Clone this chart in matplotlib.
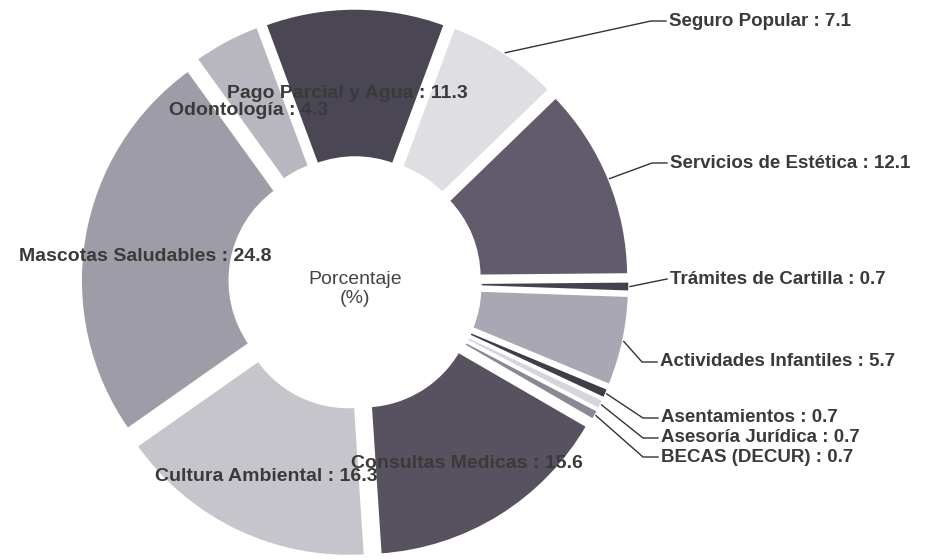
import matplotlib.pyplot as plt
import numpy as np

# datos (porcentaje por programa), en el orden de la grafica
categorias = ["Actividades Infantiles", "Asentamientos", "Asesoría Jurídica",
              "BECAS (DECUR)", "Consultas Medicas", "Cultura Ambiental",
              "Mascotas Saludables", "Odontología", "Pago Parcial y Agua",
              "Seguro Popular", "Servicios de Estética", "Trámites de Cartilla"]
porcentajes = [5.7, 0.7, 0.7, 0.7, 15.6, 16.3, 24.8, 4.3, 11.3, 7.1, 12.1, 0.7]
colores = ["#aaa7b5", "#403d49", "#d5d5db", "#8a8894", "#58515f", "#c6c5cc",
           "#9e9ca7", "#b8b6bf", "#4b4653", "#dfdee3", "#625b6c", "#46414f"]

# etiquetas dentro del anillo: (ajuste de angulo, distancia en px)
dentro = {"Consultas Medicas": (0, 197), "Cultura Ambiental": (-1, 198),
          "Mascotas Saludables": (-2.5, 196), "Odontología": (-4, 188),
          "Pago Parcial y Agua": (-2.5, 175)}
# etiquetas fuera: (x texto, y texto) en px desde arriba
fuera = {"Seguro Popular": (669, 21), "Servicios de Estética": (670, 163),
         "Trámites de Cartilla": (670, 279), "Actividades Infantiles": (660, 362),
         "Asentamientos": (661, 418), "Asesoría Jurídica": (661, 438),
         "BECAS (DECUR)": (661, 457)}

W, H = 931, 560
R = 260.0      # radio exterior en px
r_in = 110.0   # radio interior
e = 15.0       # separacion
cx, cy = 355, 283

plt.rcParams['font.family'] = ['Liberation Sans', 'DejaVu Sans']
fig = plt.figure(figsize=(W / 100, H / 100), dpi=100)
ax = fig.add_axes([0, 0, 1, 1])
ax.axis('off')


def px(x, y):
    return x / R, (H - y) / R


wedges, _ = ax.pie(porcentajes, colors=colores, radius=1, center=px(cx, cy),
                   startangle=-2, counterclock=False, explode=[e / R] * len(porcentajes),
                   wedgeprops=dict(width=(R - r_in) / R, edgecolor='white', linewidth=2.5))
ax.set_xlim(0, W / R)
ax.set_ylim(0, H / R)
ax.set_aspect('equal')

for w, nombre, val in zip(wedges, categorias, porcentajes):
    ang = np.deg2rad((w.theta1 + w.theta2) / 2)
    wx, wy = w.center
    texto = f"{nombre} : {val}"
    if nombre in dentro:
        da, d = dentro[nombre]
        a = ang + np.deg2rad(-da)
        ax.text(wx + d / R * np.cos(a), wy + d / R * np.sin(a), texto,
                ha='center', va='center', fontsize=14, fontweight='bold',
                color='#3a3a3a')
    else:
        tx, ty = fuera[nombre]
        x0, y0 = wx + np.cos(ang), wy + np.sin(ang)
        xe, ye = px(tx - 18, ty)
        xt, yt = px(tx - 3, ty)
        if nombre == "Trámites de Cartilla":
            ax.plot([x0, xt], [y0, yt], color='#333333', lw=1)
        else:
            ax.plot([x0, xe, xt], [y0, ye, yt], color='#333333', lw=1)
        ax.text(*px(tx, ty), texto, ha='left', va='center', fontsize=13.5,
                fontweight='bold', color='#3a3a3a')

ax.text(*px(cx, cy + 6), "Porcentaje\n(%)", ha='center', va='center',
        fontsize=14, color='#444444', linespacing=1.1)

fig.savefig("out.png", dpi=100)
